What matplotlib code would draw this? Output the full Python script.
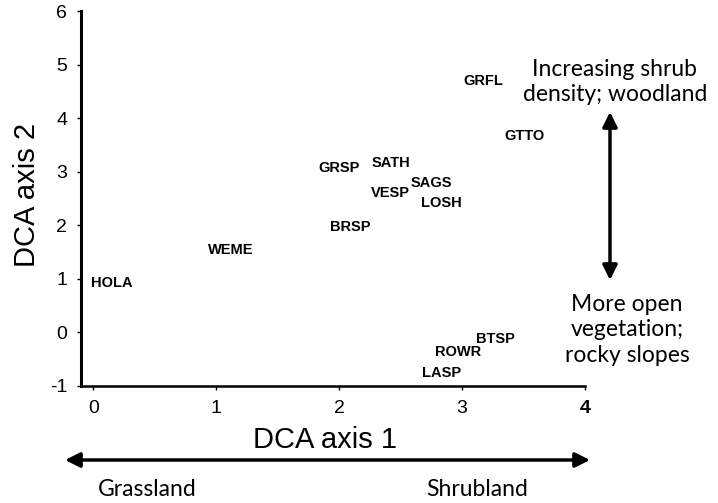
import matplotlib
matplotlib.use("Agg")
import matplotlib.pyplot as plt
from matplotlib.patches import FancyArrowPatch

# Species codes and their DCA scores (label centres)
species = ["HOLA", "WEME", "GRSP", "SATH", "VESP", "SAGS", "LOSH", "BRSP",
           "GRFL", "GTTO", "ROWR", "BTSP", "LASP"]
axis1 = [0.15, 1.12, 2.0, 2.42, 2.42, 2.75, 2.83, 2.09, 3.17, 3.51, 2.97, 3.27, 2.83]
axis2 = [0.93, 1.53, 3.07, 3.17, 2.61, 2.79, 2.42, 1.96, 4.69, 3.67, -0.36, -0.13, -0.76]

x_ticks = [0, 1, 2, 3, 4]
y_ticks = [-1, 0, 1, 2, 3, 4, 5, 6]

plt.rcParams["font.family"] = ["Liberation Sans", "DejaVu Sans"]
plt.rcParams["axes.unicode_minus"] = False

fig = plt.figure(figsize=(7.18, 5.03), dpi=100)
ax = fig.add_axes([81 / 718, 1 - 386 / 503, (585 - 81) / 718, (386 - 11) / 503])

for name, x, y in zip(species, axis1, axis2):
    ax.text(x, y, name, ha="center", va="center", fontsize=10.5, fontweight="bold")

ax.set_xlim(-0.1, 4)
ax.set_ylim(-1, 6)
ax.set_xticks(x_ticks)
ax.set_yticks(y_ticks)
ax.tick_params(direction="out", length=3, width=1, labelsize=14, pad=7)
for lab in ax.get_xticklabels():
    if lab.get_text() == "4":
        lab.set_fontweight("bold")
ax.spines["top"].set_visible(False)
ax.spines["right"].set_visible(False)
ax.spines["left"].set_linewidth(2.2)
ax.spines["bottom"].set_linewidth(1.8)

fig.text(325 / 718, 1 - 440 / 503, "DCA axis 1", ha="center", va="center", fontsize=21)
fig.text(27 / 718, 1 - 195 / 503, "DCA axis 2", ha="center", va="center", fontsize=21, rotation=90)


def fig_arrow(p0, p1):
    arr = FancyArrowPatch((p0[0] / 718, 1 - p0[1] / 503), (p1[0] / 718, 1 - p1[1] / 503),
                          transform=fig.transFigure, arrowstyle="<|-|>", mutation_scale=22,
                          linewidth=2.5, color="black", shrinkA=0, shrinkB=0)
    fig.patches.append(arr)


fig_arrow((65, 460), (590, 460))
fig_arrow((610, 112), (610, 280))

ann_font = dict(ha="center", va="center", fontsize=16.5, family=["Lato", "DejaVu Sans"])
fig.text(147 / 718, 1 - 489 / 503, "Grassland", **ann_font)
fig.text(477 / 718, 1 - 489 / 503, "Shrubland", **ann_font)
fig.text(615 / 718, 1 - 82 / 503, "Increasing shrub\ndensity; woodland", linespacing=1.25, **ann_font)
fig.text(627 / 718, 1 - 330 / 503, "More open\nvegetation;\nrocky slopes", linespacing=1.25, **ann_font)

fig.savefig("out.png", dpi=100)
